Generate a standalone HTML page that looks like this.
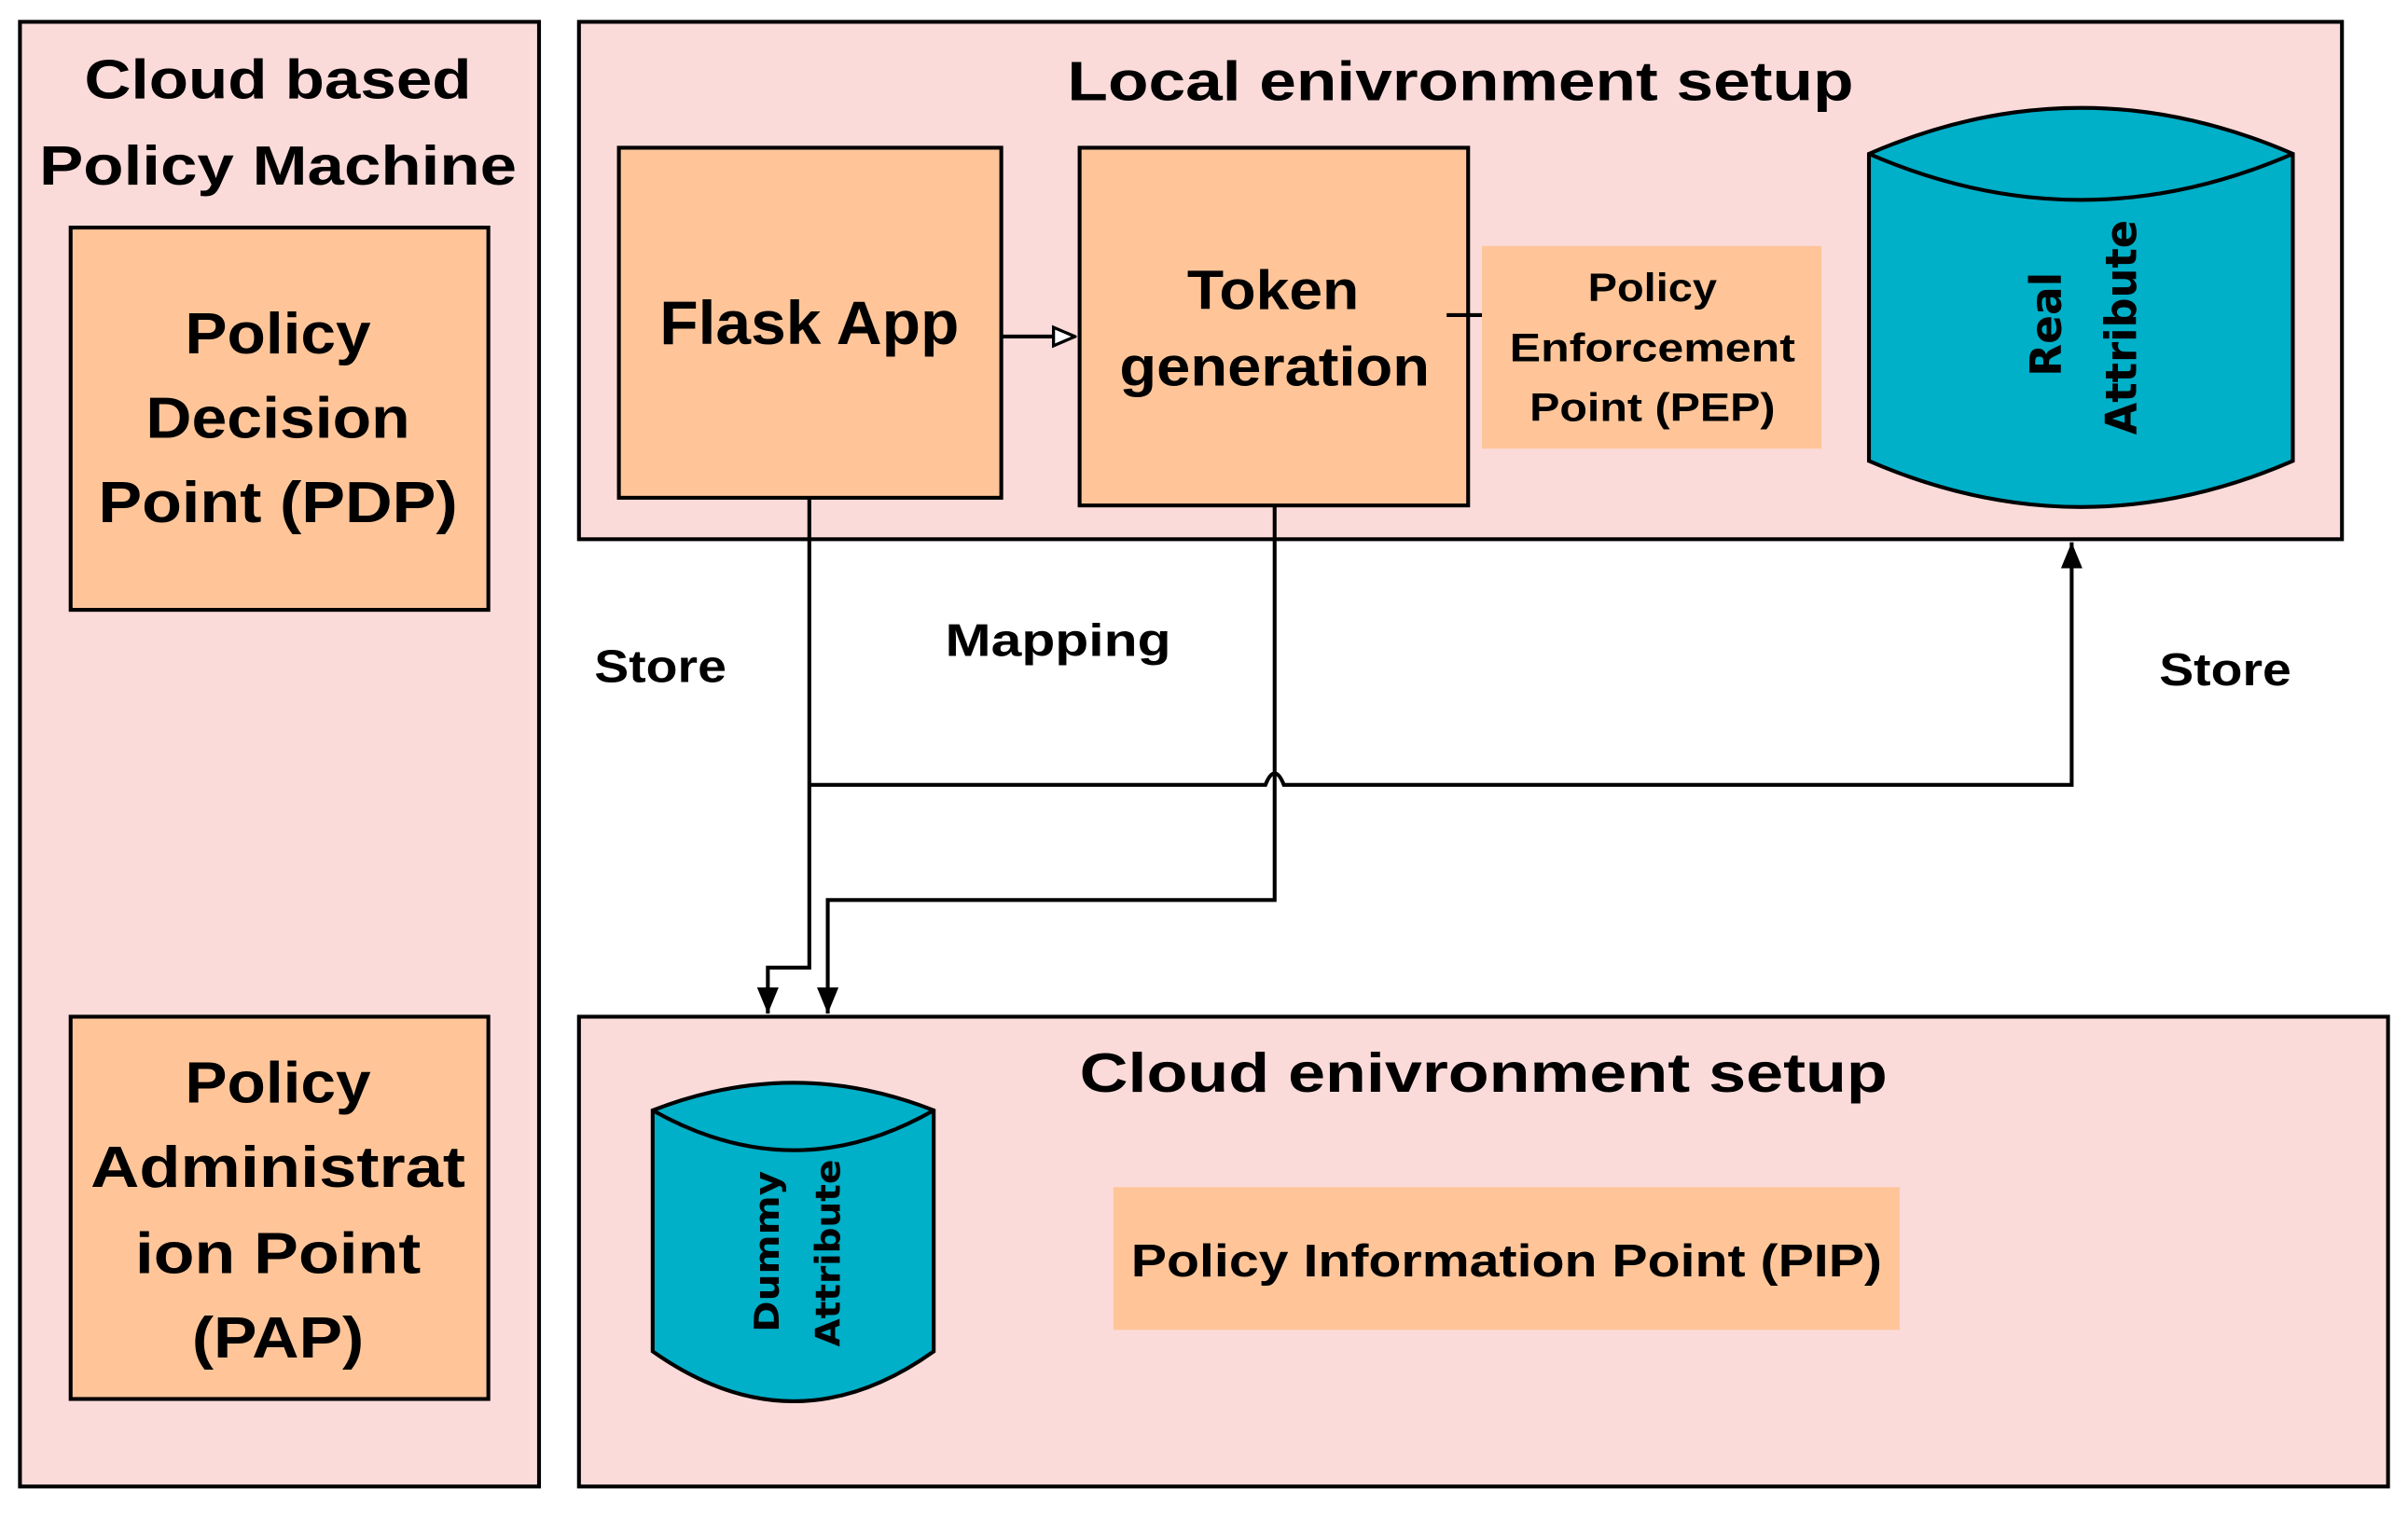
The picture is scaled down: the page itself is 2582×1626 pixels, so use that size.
<!DOCTYPE html>
<html><head><meta charset="utf-8"><style>html,body{margin:0;padding:0;background:#fff}svg{display:block}</style></head>
<body>
<svg width="2582" height="1626" viewBox="0 0 1568 987" xmlns="http://www.w3.org/2000/svg" font-family="'Liberation Sans', sans-serif" font-weight="bold">
<defs>
<marker id="oa" markerWidth="16" markerHeight="16" refX="15" refY="8" orient="auto" markerUnits="userSpaceOnUse"><path d="M1,2 L15,8 L1,14 Z" fill="#fff" stroke="#000" stroke-width="2"/></marker>
<marker id="fb" markerWidth="18" markerHeight="14" refX="17" refY="7" orient="auto" markerUnits="userSpaceOnUse"><path d="M0,0 L17,7 L0,14 Z" fill="#000"/></marker>
</defs>
<g stroke="#000" stroke-width="2.5">
<rect x="13" y="14" width="338" height="954" fill="#FADBD9"/>
<rect x="377" y="14" width="1148" height="337" fill="#FADBD9"/>
<rect x="377" y="662" width="1178" height="306" fill="#FADBD9"/>
<rect x="46" y="148" width="272" height="249" fill="#FFC599"/>
<rect x="46" y="662" width="272" height="249" fill="#FFC599"/>
<rect x="403" y="96" width="249" height="228" fill="#FFC599"/>
<rect x="703" y="96" width="253" height="233" fill="#FFC599"/>
</g>
<rect x="965" y="160" width="221" height="132" fill="#FFC599"/>
<rect x="725" y="773" width="512" height="93" fill="#FFC599"/>
<path d="M1217,100 Q1355,40 1493,100 L1493,300 Q1355,360 1217,300 Z" fill="#00AFC8" stroke="#000" stroke-width="2.5"/>
<path d="M1217,100 Q1355,160 1493,100" fill="none" stroke="#000" stroke-width="2.5"/>
<path d="M425,723 Q517,687 608,723 L608,880 Q517,945 425,880 Z" fill="#00AFC8" stroke="#000" stroke-width="2.5"/>
<path d="M425,723 Q517,775 608,723" fill="none" stroke="#000" stroke-width="2.5"/>
<g fill="none" stroke="#000" stroke-width="2.5">
<line x1="652" y1="219" x2="700" y2="219" marker-end="url(#oa)"/>
<line x1="942" y1="205" x2="965" y2="205"/>
<path d="M527,324 L527,630 L500,630 L500,660" marker-end="url(#fb)"/>
<path d="M830,329 L830,586 L539,586 L539,660" marker-end="url(#fb)"/>
<path d="M527,511 L824,511 Q830,496 836,511 L1349,511 L1349,353" marker-end="url(#fb)"/>
</g>
<g text-anchor="middle" fill="#000">
<text x="181" y="64" font-size="36" textLength="252" lengthAdjust="spacingAndGlyphs">Cloud based</text>
<text x="181" y="120" font-size="36" textLength="311" lengthAdjust="spacingAndGlyphs">Policy Machine</text>
<text x="181" y="230" font-size="38" textLength="121" lengthAdjust="spacingAndGlyphs">Policy</text>
<text x="181" y="285" font-size="38" textLength="172" lengthAdjust="spacingAndGlyphs">Decision</text>
<text x="181" y="340" font-size="38" textLength="234" lengthAdjust="spacingAndGlyphs">Point (PDP)</text>
<text x="181" y="718" font-size="38" textLength="121" lengthAdjust="spacingAndGlyphs">Policy</text>
<text x="181" y="773" font-size="38" textLength="244" lengthAdjust="spacingAndGlyphs">Administrat</text>
<text x="181" y="829" font-size="38" textLength="186" lengthAdjust="spacingAndGlyphs">ion Point</text>
<text x="181" y="884" font-size="38" textLength="112" lengthAdjust="spacingAndGlyphs">(PAP)</text>
<text x="951" y="65" font-size="36" textLength="512" lengthAdjust="spacingAndGlyphs">Local enivronment setup</text>
<text x="527" y="224" font-size="40" textLength="195" lengthAdjust="spacingAndGlyphs">Flask App</text>
<text x="829" y="201" font-size="36" textLength="112" lengthAdjust="spacingAndGlyphs">Token</text>
<text x="830" y="251" font-size="36" textLength="202" lengthAdjust="spacingAndGlyphs">generation</text>
<text x="1076" y="196" font-size="26" textLength="84" lengthAdjust="spacingAndGlyphs">Policy</text>
<text x="1076" y="235" font-size="26" textLength="186" lengthAdjust="spacingAndGlyphs">Enforcement</text>
<text x="1076" y="274" font-size="26" textLength="160" lengthAdjust="spacingAndGlyphs">Point (PEP)</text>
<text x="430" y="444" font-size="30" textLength="86" lengthAdjust="spacingAndGlyphs">Store</text>
<text x="689" y="427" font-size="30" textLength="147" lengthAdjust="spacingAndGlyphs">Mapping</text>
<text x="1449" y="446" font-size="30" textLength="86" lengthAdjust="spacingAndGlyphs">Store</text>
<text x="966" y="711" font-size="36" textLength="526" lengthAdjust="spacingAndGlyphs">Cloud enivronment setup</text>
<text x="981" y="831" font-size="30" textLength="489" lengthAdjust="spacingAndGlyphs">Policy Information Point (PIP)</text>
<g font-family="'DejaVu Sans', sans-serif">
<text transform="translate(1342,211) rotate(-90)" font-size="28" textLength="68" lengthAdjust="spacingAndGlyphs">Real</text>
<text transform="translate(1391,213) rotate(-90)" font-size="28" textLength="140" lengthAdjust="spacingAndGlyphs">Attribute</text>
<text transform="translate(507,815) rotate(-90)" font-size="22" textLength="105" lengthAdjust="spacingAndGlyphs">Dummy</text>
<text transform="translate(547,816) rotate(-90)" font-size="22" textLength="122" lengthAdjust="spacingAndGlyphs">Attribute</text>
</g>
</g>
</svg>
</body></html>
